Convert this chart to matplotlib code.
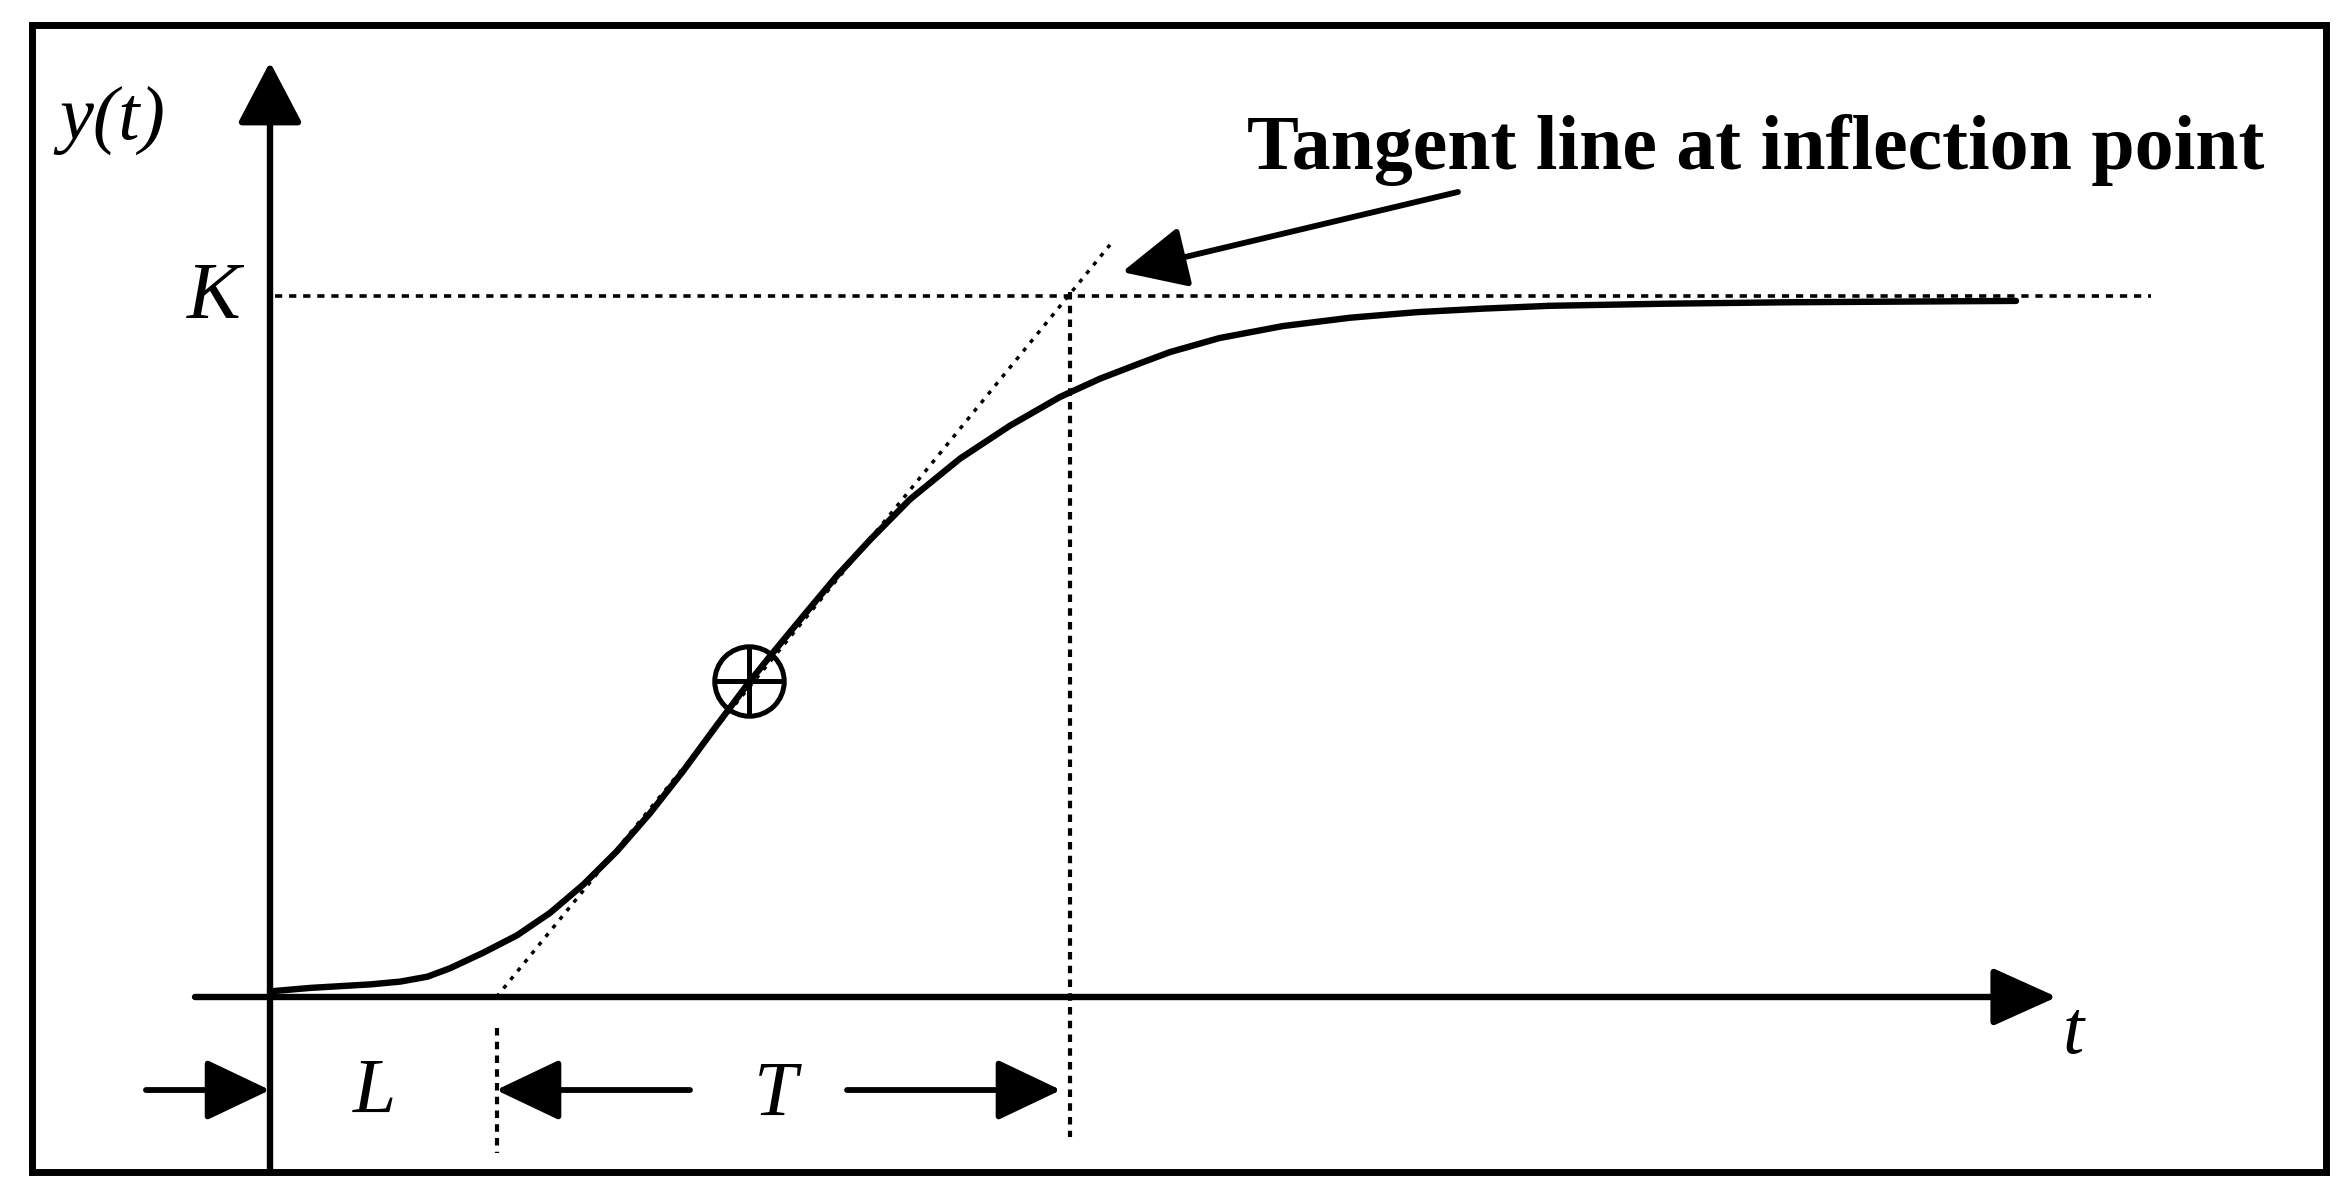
import numpy as np
import matplotlib.pyplot as plt
from matplotlib.patches import Rectangle

# step response (t, y), K = 1
t_curve = [0.0, 0.27, 0.67, 0.87, 1.05, 1.20, 1.42, 1.647, 1.867, 2.087, 2.313, 2.533,
           2.753, 2.98, 3.19, 3.333, 3.553, 3.78, 4.00, 4.267, 4.60, 4.933, 5.267, 5.533,
           5.80, 6.00, 6.33, 6.75, 7.20, 7.65, 8.09, 8.53, 9.30, 10.10, 11.64]
y_curve = [0.008, 0.013, 0.018, 0.022, 0.029, 0.041, 0.063, 0.088, 0.120, 0.160, 0.208, 0.262,
           0.322, 0.388, 0.448, 0.486, 0.543, 0.601, 0.652, 0.710, 0.768, 0.815, 0.856, 0.882,
           0.904, 0.920, 0.940, 0.957, 0.969, 0.977, 0.982, 0.986, 0.989, 0.991, 0.993]

K = 1.0
L = 1.51          # dead time (tangent meets t axis)
T_end = 5.33      # tangent meets K
t_inflect, y_inflect = 3.19, 0.451
t_tangent = [L, 5.60]
y_tangent = [0.0, 1.073]

label_text = "Tangent line at inflection point"

plt.rcParams["font.family"] = ["Liberation Serif", "DejaVu Serif"]

fig = plt.figure(figsize=(23.51, 12), dpi=100)
ax = fig.add_axes([0, 0, 1, 1])
ax.set_xlim(-1.8, 13.8733)
ax.set_ylim(-0.28959, 1.42225)
ax.axis("off")

# outer frame
ax.add_patch(Rectangle((-1.587, -0.2496), 13.707 + 1.587, 1.3866 + 0.2496,
                       fill=False, lw=5, ec="black", zorder=1))

def arrow(x0, y0, x1, y1, lw, ms, hl=0.4, hw=0.2):
    ax.annotate("", xy=(x1, y1), xytext=(x0, y0),
                arrowprops=dict(arrowstyle=f"-|>,head_length={hl},head_width={hw}",
                                mutation_scale=ms, lw=lw, color="black",
                                shrinkA=0, shrinkB=0))

# axes with arrows
arrow(0, -0.2496, 0, 1.3338, 4.6, 96, 0.4, 0.21)
arrow(-0.5, 0, 11.913, 0, 4.6, 100, 0.4, 0.18)

# K level and guide lines
ax.plot([0.03, 12.54], [K, K], color="black", lw=2.6, ls=(0, (2.0, 1.9)))
ax.plot([T_end, T_end], [1.005, -0.2], color="black", lw=3.0, ls=(0, (1.8, 1.5)))
ax.plot([L, L], [-0.044, -0.2225], color="black", lw=3.0, ls=(0, (1.8, 1.5)))
ax.plot(t_tangent, y_tangent, color="black", lw=2.5, ls=(0, (1.2, 2.0)))

# response curve
ax.plot(t_curve, y_curve, color="black", lw=4.6, solid_capstyle="round",
        solid_joinstyle="round")

# inflection marker
ax.plot(t_inflect, y_inflect, marker="o", ms=50, mfc="none", mec="black", mew=3.6)
ax.plot(t_inflect, y_inflect, marker="+", ms=47, mec="black", mew=3.6)

# callout
ax.text(6.513, 1.1812, label_text, fontsize=56, fontweight="bold",
        ha="left", va="baseline")
arrow(7.92, 1.1484, 5.68, 1.0342, 4.2, 100, 0.4, 0.19)

# L and T dimension arrows
y_dim = -0.1327
arrow(-0.827, y_dim, 0.0, y_dim, 4.2, 100, 0.4, 0.19)
arrow(2.80, y_dim, 1.507, y_dim, 4.2, 100, 0.4, 0.19)
arrow(3.847, y_dim, 5.273, y_dim, 4.2, 100, 0.4, 0.19)

# labels
ax.text(-1.053, 1.25, "y(t)", fontsize=55, style="italic", ha="center", va="center")
ax.text(-0.373, 0.9686, "K", fontsize=58, style="italic", ha="center", va="baseline")
ax.text(0.70, -0.164, "L", fontsize=56, style="italic", ha="center", va="baseline")
ax.text(3.37, -0.168, "T", fontsize=56, style="italic", ha="center", va="baseline")
ax.text(12.02, -0.08, "t", fontsize=55, style="italic", ha="center", va="baseline")

fig.savefig("out.png", dpi=100, facecolor="white")
